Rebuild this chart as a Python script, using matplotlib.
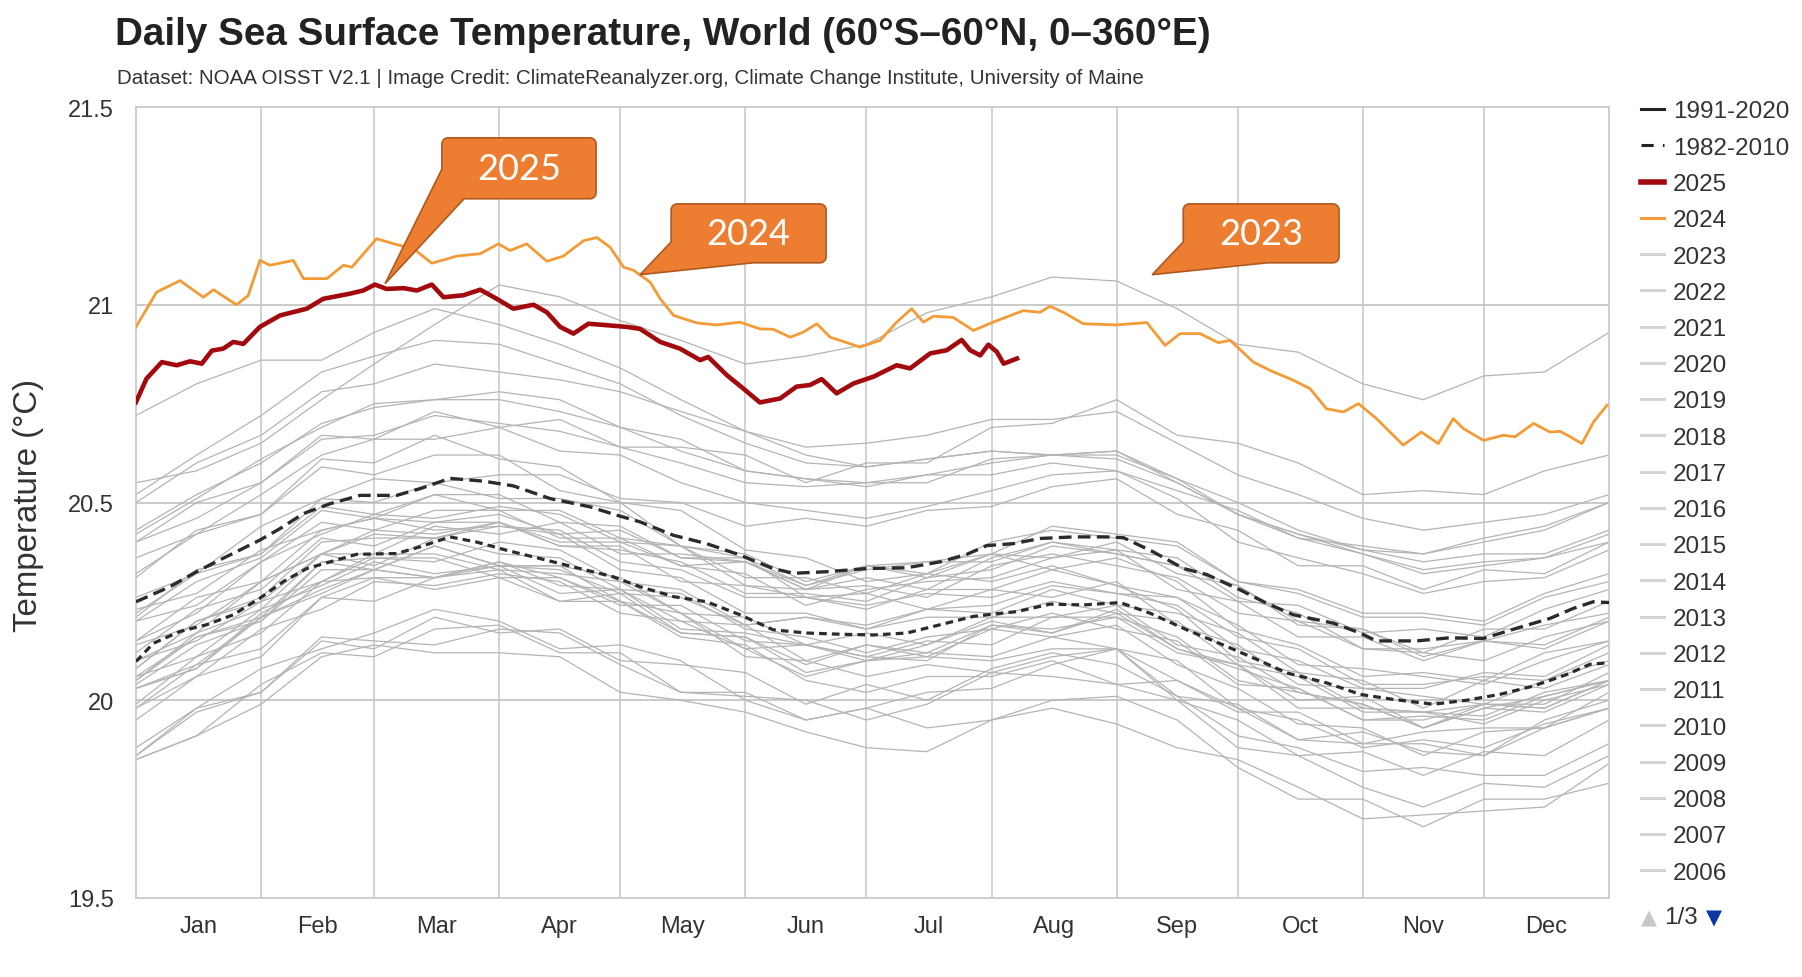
import matplotlib
matplotlib.use("Agg")
import matplotlib.pyplot as plt
from matplotlib.patches import Polygon
from matplotlib.lines import Line2D
from matplotlib.transforms import IdentityTransform
import numpy as np

# ---- data (day of year, deg C) ----
MONTHS = ["Jan", "Feb", "Mar", "Apr", "May", "Jun", "Jul", "Aug", "Sep", "Oct", "Nov", "Dec"]
MONTH_START = [0, 31, 59, 90, 120, 151, 181, 212, 243, 273, 304, 334]
MONTH_MID = [15.5, 45, 74.5, 105, 135.5, 166, 196.5, 227.5, 258, 288.5, 319, 349.5]
Y_TICKS = [19.5, 20, 20.5, 21, 21.5]
Y_TICK_LABELS = ["19.5", "20", "20.5", "21", "21.5"]

days_2025 = [0, 2.6, 6.4, 10.1, 13.4, 16.3, 18.8, 21.6, 24.1, 26.6, 30.7, 35.7, 42.3, 46.4, 53.0,
             56.3, 59.2, 62.1, 66.3, 69.6, 73.3, 76.2, 81.1, 85.3, 89.4, 93.5, 98.5, 101.8, 105.1,
             108.4, 112.1, 115.8, 121.6, 124.9, 129.9, 134.8, 139.8, 141.8, 146.4, 150.5, 154.6,
             159.6, 163.7, 167.0, 169.9, 173.6, 177.8, 182.7, 188.5, 191.8, 196.8, 200.9, 204.6,
             206.7, 209.2, 211.2, 213.3, 215.0, 218.3]
sst_2025 = [20.754, 20.813, 20.855, 20.847, 20.857, 20.851, 20.884, 20.889, 20.906, 20.901, 20.944,
            20.973, 20.990, 21.015, 21.028, 21.036, 21.051, 21.040, 21.042, 21.036, 21.051, 21.019,
            21.024, 21.038, 21.015, 20.990, 21.000, 20.981, 20.944, 20.927, 20.952, 20.949, 20.944,
            20.939, 20.906, 20.889, 20.860, 20.868, 20.822, 20.788, 20.753, 20.763, 20.793, 20.797,
            20.812, 20.776, 20.801, 20.818, 20.847, 20.839, 20.877, 20.885, 20.911, 20.885, 20.872,
            20.899, 20.881, 20.851, 20.864]

days_2024 = [0, 5.1, 10.9, 16.7, 19.2, 24.9, 27.8, 30.7, 33.2, 39.0, 41.5, 47.3, 51.4, 53.5, 59.6,
             64.6, 68.7, 73.3, 79.5, 85.3, 89.8, 92.7, 96.8, 101.8, 105.9, 110.9, 114.2, 117.5,
             120.8, 123.3, 127.4, 129.9, 133.2, 139.0, 143.9, 149.7, 154.6, 157.9, 162.1, 165.4,
             168.7, 172.0, 179.4, 184.4, 188.5, 192.2, 195.1, 197.6, 202.5, 207.5, 212.4, 219.8,
             224.0, 226.5, 229.8, 234.7, 243.0, 250.5, 255.0, 258.7, 263.7, 268.2, 271.1, 276.9,
             281.0, 286.8, 290.9, 295.0, 299.2, 302.9, 307.4, 314.0, 318.5, 322.7, 326.4, 328.9,
             333.9, 338.8, 341.7, 346.3, 350.4, 352.9, 355.4, 358.3, 361.2, 364.5]
sst_2024 = [20.944, 21.032, 21.061, 21.019, 21.038, 21.000, 21.023, 21.112, 21.100, 21.112, 21.066,
            21.066, 21.100, 21.095, 21.167, 21.152, 21.142, 21.105, 21.123, 21.129, 21.154, 21.137,
            21.154, 21.110, 21.123, 21.162, 21.170, 21.145, 21.095, 21.087, 21.057, 21.015, 20.973,
            20.954, 20.949, 20.956, 20.939, 20.938, 20.918, 20.931, 20.952, 20.918, 20.893, 20.910,
            20.956, 20.990, 20.956, 20.971, 20.968, 20.935, 20.956, 20.985, 20.981, 20.996, 20.981,
            20.952, 20.949, 20.955, 20.897, 20.927, 20.927, 20.904, 20.910, 20.855, 20.834, 20.809,
            20.788, 20.737, 20.729, 20.750, 20.712, 20.645, 20.678, 20.649, 20.712, 20.687, 20.657,
            20.670, 20.666, 20.700, 20.678, 20.680, 20.666, 20.649, 20.704, 20.746]

days_9120 = [0, 8.4, 15, 21.6, 30.7, 35.7, 41.5, 48.1, 55.5, 64.6, 70.4, 77.8, 86.1, 93.5, 102.6,
             112.5, 119.1, 124.9, 133.2, 141.4, 149.7, 157.9, 162.9, 171.2, 181.1, 191, 199.3,
             205.9, 210.8, 217.4, 224, 232.3, 240.5, 244.7, 252.1, 259.6, 265.3, 273.6, 280.2,
             286.8, 296.7, 303.3, 307.4, 317.3, 325.6, 333.8, 342.1, 350.4, 356.1, 361.1, 365]
clim_9120 = [20.249, 20.287, 20.325, 20.359, 20.405, 20.434, 20.472, 20.497, 20.518, 20.518, 20.535,
             20.561, 20.554, 20.542, 20.510, 20.489, 20.468, 20.451, 20.417, 20.396, 20.367, 20.333,
             20.321, 20.325, 20.333, 20.335, 20.350, 20.369, 20.391, 20.396, 20.409, 20.413, 20.413,
             20.411, 20.375, 20.333, 20.318, 20.279, 20.245, 20.216, 20.195, 20.170, 20.150, 20.150,
             20.158, 20.156, 20.182, 20.207, 20.232, 20.249, 20.247]

days_8210 = [0, 4.3, 10.9, 17.5, 24.1, 30.7, 36.5, 42.3, 48.1, 54.7, 64.6, 70.4, 77.8, 84.4, 91.9,
             101.8, 110, 118.3, 124.9, 133.2, 141.4, 149.7, 157.9, 166.2, 174.4, 182.7, 191, 199.3,
             207.5, 212.4, 218.2, 226.5, 234.7, 243.9, 251.3, 260.4, 270.3, 276.9, 285.2, 295,
             303.3, 311.6, 321.5, 329.7, 338, 346.3, 354.5, 360.3, 365]
clim_8210 = [20.098, 20.144, 20.174, 20.191, 20.216, 20.258, 20.300, 20.333, 20.350, 20.369, 20.371,
             20.388, 20.413, 20.400, 20.379, 20.354, 20.333, 20.312, 20.287, 20.262, 20.249, 20.216,
             20.178, 20.170, 20.167, 20.165, 20.170, 20.191, 20.212, 20.218, 20.224, 20.243, 20.241,
             20.247, 20.220, 20.178, 20.136, 20.107, 20.069, 20.044, 20.015, 20.002, 19.990, 20.000,
             20.015, 20.036, 20.065, 20.091, 20.095]

# past years, sampled twice a month
gray_days = [0, 15, 31, 46, 59, 74, 90, 105, 120, 135, 151, 166, 181, 196, 212, 227, 243, 258, 273,
             288, 304, 319, 334, 349, 365]
y1982 = [19.88, 19.98, 20.02, 20.16, 20.15, 20.14, 20.18, 20.17, 20.09, 20.02, 20.01, 20.00, 19.95, 19.99, 20.07, 20.06, 20.04, 20.05, 19.98, 19.90, 19.92, 19.87, 19.86, 19.95, 20.00]
y1983 = [20.03, 20.08, 20.22, 20.30, 20.37, 20.37, 20.33, 20.32, 20.30, 20.22, 20.13, 20.06, 20.10, 20.11, 20.10, 20.13, 20.13, 20.01, 19.91, 19.88, 19.82, 19.83, 19.81, 19.81, 19.89]
y1984 = [19.86, 19.98, 20.08, 20.13, 20.17, 20.23, 20.20, 20.13, 20.14, 20.10, 20.00, 19.95, 19.98, 19.93, 19.95, 20.00, 20.01, 19.95, 19.83, 19.75, 19.75, 19.68, 19.75, 19.75, 19.79]
y1985 = [19.85, 19.91, 19.99, 20.11, 20.14, 20.12, 20.12, 20.11, 20.02, 20.00, 19.97, 19.92, 19.88, 19.87, 19.95, 19.98, 19.94, 19.88, 19.85, 19.78, 19.70, 19.71, 19.72, 19.73, 19.84]
y1986 = [19.85, 19.91, 20.04, 20.12, 20.11, 20.18, 20.19, 20.12, 20.12, 20.02, 20.02, 19.95, 19.98, 20.02, 20.03, 20.09, 20.13, 20.05, 19.97, 19.97, 19.89, 19.92, 19.93, 19.93, 20.02]
y1987 = [20.05, 20.16, 20.21, 20.35, 20.36, 20.35, 20.40, 20.38, 20.30, 20.28, 20.19, 20.21, 20.18, 20.23, 20.22, 20.28, 20.24, 20.22, 20.17, 20.07, 20.05, 19.98, 20.05, 20.03, 20.09]
y1988 = [20.10, 20.15, 20.25, 20.30, 20.36, 20.36, 20.31, 20.31, 20.25, 20.16, 20.14, 20.05, 20.02, 20.06, 20.06, 20.10, 20.04, 20.00, 19.88, 19.86, 19.78, 19.73, 19.79, 19.78, 19.86]
y1989 = [19.86, 19.97, 20.02, 20.15, 20.13, 20.21, 20.17, 20.18, 20.10, 20.09, 20.07, 19.99, 20.04, 20.00, 20.08, 20.12, 20.09, 20.01, 19.99, 19.90, 19.89, 19.89, 19.86, 19.93, 19.98]
y1990 = [19.99, 20.11, 20.17, 20.30, 20.31, 20.31, 20.35, 20.31, 20.24, 20.24, 20.15, 20.14, 20.10, 20.14, 20.20, 20.17, 20.22, 20.13, 20.09, 19.98, 19.98, 19.97, 19.94, 20.00, 20.04]
y1991 = [20.06, 20.11, 20.23, 20.29, 20.35, 20.32, 20.34, 20.27, 20.28, 20.20, 20.19, 20.10, 20.14, 20.11, 20.18, 20.22, 20.18, 20.15, 20.04, 20.03, 19.95, 19.95, 19.99, 19.98, 20.05]
y1992 = [20.06, 20.16, 20.20, 20.33, 20.33, 20.39, 20.34, 20.34, 20.25, 20.22, 20.11, 20.10, 20.06, 20.09, 20.07, 20.11, 20.13, 20.00, 19.95, 19.86, 19.87, 19.81, 19.87, 19.86, 19.95]
y1993 = [19.95, 20.06, 20.11, 20.26, 20.25, 20.31, 20.33, 20.25, 20.25, 20.17, 20.16, 20.07, 20.10, 20.12, 20.11, 20.16, 20.13, 20.10, 19.98, 19.95, 19.88, 19.90, 19.88, 19.94, 19.98]
y1994 = [19.98, 20.06, 20.18, 20.23, 20.30, 20.29, 20.32, 20.30, 20.22, 20.20, 20.13, 20.14, 20.11, 20.15, 20.14, 20.21, 20.21, 20.12, 20.09, 20.00, 20.01, 19.93, 19.99, 19.99, 20.07]
y1995 = [20.08, 20.20, 20.25, 20.37, 20.34, 20.41, 20.37, 20.36, 20.28, 20.27, 20.18, 20.16, 20.12, 20.16, 20.18, 20.16, 20.19, 20.09, 20.03, 19.94, 19.93, 19.86, 19.92, 19.93, 19.98]
y1996 = [19.98, 20.09, 20.13, 20.26, 20.31, 20.28, 20.31, 20.25, 20.27, 20.17, 20.16, 20.09, 20.14, 20.12, 20.19, 20.17, 20.23, 20.13, 20.08, 20.03, 19.95, 19.96, 19.95, 20.01, 20.05]
y1997 = [20.05, 20.17, 20.23, 20.37, 20.37, 20.44, 20.42, 20.45, 20.37, 20.37, 20.35, 20.28, 20.34, 20.35, 20.37, 20.44, 20.42, 20.40, 20.30, 20.27, 20.21, 20.21, 20.19, 20.26, 20.30]
y1998 = [20.31, 20.43, 20.47, 20.61, 20.60, 20.67, 20.61, 20.59, 20.50, 20.48, 20.38, 20.36, 20.30, 20.32, 20.30, 20.34, 20.29, 20.23, 20.10, 20.07, 19.98, 19.97, 19.96, 20.02, 20.05]
y1999 = [20.03, 20.09, 20.21, 20.28, 20.33, 20.31, 20.35, 20.29, 20.28, 20.18, 20.17, 20.14, 20.11, 20.10, 20.19, 20.18, 20.21, 20.16, 20.05, 20.02, 19.99, 19.93, 19.98, 19.97, 20.04]
y2000 = [20.04, 20.14, 20.20, 20.35, 20.33, 20.39, 20.34, 20.34, 20.31, 20.22, 20.21, 20.14, 20.17, 20.14, 20.21, 20.21, 20.24, 20.14, 20.11, 20.02, 19.99, 19.93, 19.98, 20.01, 20.05]
y2001 = [20.08, 20.20, 20.26, 20.40, 20.41, 20.41, 20.45, 20.39, 20.39, 20.30, 20.29, 20.26, 20.23, 20.28, 20.28, 20.33, 20.29, 20.26, 20.19, 20.09, 20.08, 20.06, 20.04, 20.10, 20.15]
y2002 = [20.15, 20.22, 20.35, 20.42, 20.47, 20.46, 20.49, 20.47, 20.40, 20.39, 20.31, 20.31, 20.27, 20.32, 20.37, 20.36, 20.40, 20.32, 20.29, 20.20, 20.18, 20.11, 20.15, 20.19, 20.22]
y2003 = [20.22, 20.32, 20.37, 20.49, 20.47, 20.52, 20.48, 20.48, 20.41, 20.39, 20.29, 20.28, 20.29, 20.26, 20.34, 20.37, 20.34, 20.31, 20.22, 20.20, 20.13, 20.12, 20.10, 20.16, 20.20]
y2004 = [20.20, 20.24, 20.35, 20.45, 20.43, 20.48, 20.48, 20.41, 20.41, 20.34, 20.32, 20.24, 20.28, 20.30, 20.31, 20.36, 20.38, 20.28, 20.25, 20.16, 20.16, 20.10, 20.15, 20.14, 20.21]
y2005 = [20.21, 20.33, 20.37, 20.51, 20.50, 20.55, 20.51, 20.51, 20.48, 20.39, 20.37, 20.30, 20.34, 20.31, 20.37, 20.33, 20.36, 20.30, 20.18, 20.14, 20.06, 20.07, 20.05, 20.12, 20.15]
y2006 = [20.14, 20.19, 20.30, 20.37, 20.43, 20.42, 20.45, 20.39, 20.38, 20.35, 20.27, 20.27, 20.25, 20.31, 20.33, 20.39, 20.37, 20.34, 20.29, 20.19, 20.18, 20.12, 20.18, 20.18, 20.25]
y2007 = [20.23, 20.27, 20.38, 20.43, 20.46, 20.43, 20.44, 20.42, 20.33, 20.31, 20.22, 20.22, 20.18, 20.21, 20.21, 20.25, 20.22, 20.20, 20.09, 20.06, 19.97, 19.97, 19.99, 19.98, 20.05]
y2008 = [20.03, 20.08, 20.21, 20.27, 20.33, 20.31, 20.34, 20.33, 20.27, 20.26, 20.19, 20.21, 20.19, 20.23, 20.24, 20.29, 20.27, 20.26, 20.16, 20.13, 20.04, 20.04, 20.06, 20.05, 20.12]
y2009 = [20.12, 20.23, 20.28, 20.41, 20.39, 20.45, 20.45, 20.40, 20.40, 20.34, 20.35, 20.29, 20.34, 20.32, 20.40, 20.43, 20.41, 20.39, 20.30, 20.28, 20.22, 20.22, 20.20, 20.27, 20.32]
y2010 = [20.32, 20.42, 20.47, 20.59, 20.57, 20.62, 20.62, 20.53, 20.50, 20.39, 20.36, 20.26, 20.27, 20.23, 20.28, 20.26, 20.30, 20.19, 20.14, 20.04, 20.03, 20.01, 19.99, 20.05, 20.10]
y2011 = [20.10, 20.17, 20.30, 20.37, 20.42, 20.41, 20.44, 20.43, 20.35, 20.33, 20.26, 20.26, 20.24, 20.27, 20.26, 20.30, 20.27, 20.24, 20.13, 20.10, 20.03, 20.03, 20.07, 20.06, 20.14]
y2012 = [20.15, 20.26, 20.30, 20.43, 20.46, 20.45, 20.47, 20.42, 20.43, 20.36, 20.36, 20.29, 20.33, 20.35, 20.35, 20.40, 20.38, 20.36, 20.26, 20.22, 20.13, 20.13, 20.15, 20.13, 20.20]
y2013 = [20.20, 20.30, 20.36, 20.48, 20.46, 20.52, 20.52, 20.45, 20.44, 20.36, 20.35, 20.28, 20.31, 20.28, 20.36, 20.40, 20.37, 20.34, 20.25, 20.24, 20.17, 20.18, 20.16, 20.23, 20.28]
y2014 = [20.26, 20.32, 20.44, 20.51, 20.56, 20.55, 20.57, 20.57, 20.51, 20.50, 20.44, 20.46, 20.44, 20.48, 20.49, 20.54, 20.56, 20.47, 20.43, 20.34, 20.34, 20.28, 20.33, 20.32, 20.40]
y2015 = [20.40, 20.50, 20.55, 20.67, 20.66, 20.73, 20.69, 20.71, 20.64, 20.64, 20.62, 20.55, 20.60, 20.60, 20.69, 20.70, 20.76, 20.67, 20.65, 20.60, 20.52, 20.53, 20.52, 20.58, 20.62]
y2016 = [20.72, 20.80, 20.86, 20.86, 20.93, 20.99, 20.95, 20.90, 20.84, 20.76, 20.68, 20.62, 20.59, 20.61, 20.63, 20.62, 20.63, 20.55, 20.47, 20.42, 20.37, 20.33, 20.35, 20.36, 20.42]
y2017 = [20.42, 20.51, 20.61, 20.69, 20.75, 20.76, 20.78, 20.76, 20.69, 20.66, 20.58, 20.56, 20.55, 20.57, 20.57, 20.60, 20.58, 20.51, 20.40, 20.36, 20.32, 20.27, 20.30, 20.31, 20.38]
y2018 = [20.36, 20.42, 20.52, 20.62, 20.66, 20.66, 20.69, 20.63, 20.62, 20.55, 20.50, 20.48, 20.46, 20.49, 20.53, 20.57, 20.58, 20.53, 20.48, 20.41, 20.39, 20.37, 20.40, 20.43, 20.50]
y2019 = [20.50, 20.60, 20.67, 20.78, 20.80, 20.85, 20.83, 20.81, 20.78, 20.73, 20.68, 20.64, 20.65, 20.67, 20.71, 20.71, 20.73, 20.65, 20.57, 20.52, 20.46, 20.43, 20.45, 20.47, 20.52]
y2020 = [20.52, 20.62, 20.72, 20.83, 20.87, 20.91, 20.90, 20.85, 20.80, 20.72, 20.65, 20.60, 20.59, 20.61, 20.63, 20.62, 20.63, 20.56, 20.47, 20.41, 20.37, 20.32, 20.34, 20.36, 20.40]
y2021 = [20.40, 20.46, 20.55, 20.66, 20.67, 20.72, 20.70, 20.68, 20.64, 20.60, 20.55, 20.54, 20.55, 20.55, 20.61, 20.62, 20.62, 20.56, 20.50, 20.43, 20.38, 20.35, 20.37, 20.37, 20.43]
y2022 = [20.43, 20.52, 20.60, 20.70, 20.74, 20.76, 20.76, 20.73, 20.69, 20.63, 20.58, 20.56, 20.54, 20.57, 20.60, 20.62, 20.61, 20.55, 20.47, 20.42, 20.38, 20.37, 20.41, 20.44, 20.50]
y2023 = [20.55, 20.58, 20.65, 20.76, 20.85, 20.95, 21.05, 21.02, 20.96, 20.91, 20.85, 20.87, 20.90, 20.98, 21.02, 21.07, 21.06, 20.99, 20.90, 20.88, 20.80, 20.76, 20.82, 20.83, 20.93]

gray_years = [y1982, y1983, y1984, y1985, y1986, y1987, y1988, y1989, y1990, y1991, y1992, y1993,
              y1994, y1995, y1996, y1997, y1998, y1999, y2000, y2001, y2002, y2003, y2004, y2005,
              y2006, y2007, y2008, y2009, y2010, y2011, y2012, y2013, y2014, y2015, y2016, y2017,
              y2018, y2019, y2020, y2021, y2022, y2023]

legend_labels = ["1991-2020", "1982-2010", "2025", "2024"] + [str(y) for y in range(2023, 2005, -1)]

# callouts: label, tip (day, temp), box (day0, day1, temp_bottom, temp_top),
# wedge start on the box's left edge (temp) and on its bottom edge (day)
callouts = [
    ("2025", (61.7, 21.053), (75.8, 114.0, 21.268, 21.422), 21.343, 81.3),
    ("2024", (124.9, 21.076), (132.6, 171.0, 21.106, 21.255), 21.159, 152.9),
    ("2023", (251.8, 21.076), (259.5, 298.1, 21.106, 21.255), 21.159, 280.3),
]

W, H = 1802, 978
FONT = ["Liberation Sans", "DejaVu Sans"]
plt.rcParams['font.family'] = FONT

fig = plt.figure(figsize=(W / 100, H / 100), dpi=100)
fig.patch.set_facecolor("white")
ax = fig.add_axes([136 / W, 1 - 899 / H, (1609 - 136) / W, (899 - 108) / H])
ax.set_xlim(0, 365)
ax.set_ylim(19.5, 21.5)
ax.set_autoscale_on(False)

for s in ax.spines.values():
    s.set_color("#c6c6c6")
    s.set_linewidth(1.2)
for d in MONTH_START[1:]:
    ax.axvline(d, color="#c6c6c6", lw=1.1, zorder=1)
for t in Y_TICKS[1:-1]:
    ax.axhline(t, color="#c6c6c6", lw=1.3, zorder=1)

ax.set_yticks(Y_TICKS)
ax.set_yticklabels(Y_TICK_LABELS)
ax.set_xticks(MONTH_MID)
ax.set_xticklabels(MONTHS)
ax.tick_params(axis="both", length=0, labelsize=17, labelcolor="#333333")
ax.tick_params(axis="y", pad=16)
ax.tick_params(axis="x", pad=12)

# gray lines for past years
for row in gray_years:
    ax.plot(gray_days, row, color="#b4b4b4", lw=0.9, zorder=2)

ax.plot(days_8210, clim_8210, color="#2b2b2b", lw=2.3, dashes=(2.4, 1.6), zorder=4)
ax.plot(days_9120, clim_9120, color="#2b2b2b", lw=2.4, dashes=(3.8, 1.9), zorder=4)
ax.plot(days_2024, sst_2024, color="#f39b36", lw=2.0, zorder=5)
ax.plot(days_2025, sst_2025, color="#a30a0e", lw=3.3, zorder=6)

# callout shapes, built in pixel space
r = 6
for label, tip, box, ya, xb in callouts:
    tx, ty = ax.transData.transform(tip)
    x0, yb = ax.transData.transform((box[0], box[2]))
    x1, yt = ax.transData.transform((box[1], box[3]))
    _, ay = ax.transData.transform((box[0], ya))
    bx, _ = ax.transData.transform((xb, box[2]))
    pts = [(x0, ay)]
    for cx, cy, a0, a1 in [(x0 + r, yt - r, 180, 90), (x1 - r, yt - r, 90, 0), (x1 - r, yb + r, 0, -90)]:
        for a in np.linspace(np.radians(a0), np.radians(a1), 7):
            pts.append((cx + r * np.cos(a), cy + r * np.sin(a)))
    pts += [(bx, yb), (tx, ty)]
    poly = Polygon(pts, closed=True, transform=IdentityTransform(), facecolor="#ed7d31",
                   edgecolor="#ae5a21", lw=1.2, zorder=10)
    ax.add_patch(poly)
    ax.text((box[0] + box[1]) / 2, (box[2] + box[3]) / 2, label, ha="center", va="center",
            color="white", fontsize=26, family=["Lato", "DejaVu Sans"], zorder=11)

# titles
renderer = fig.canvas.get_renderer()


def fit(t, target):
    bb = t.get_window_extent(renderer=renderer)
    size = max(bb.width, bb.height)
    t.set_fontsize(t.get_fontsize() * target / size)


title = fig.text(115 / W, 1 - 45 / H, "Daily Sea Surface Temperature, World (60°S–60°N, 0–360°E)",
                 fontsize=24, fontweight="bold", color="#222222", ha="left", va="baseline")
fit(title, 1097)
sub = fig.text(117 / W, 1 - 84 / H, "Dataset: NOAA OISST V2.1 | Image Credit: ClimateReanalyzer.org, "
               "Climate Change Institute, University of Maine",
               fontsize=13, color="#333333", ha="left", va="baseline")
fit(sub, 1026)
ylab = fig.text(29 / W, 1 - 505 / H, "Temperature (°C)", rotation=90, ha="center", va="center",
                fontsize=22, color="#333333")
fit(ylab, 253)

# legend on the right
styles = [
    dict(color="#222222", lw=2.2),
    dict(color="#222222", lw=2.2, linestyle=(0, (4, 3, 1, 3))),
    dict(color="#a30a0e", lw=4.0),
    dict(color="#f39b36", lw=2.2),
]
for i, lab in enumerate(legend_labels):
    y = 1 - (110 + i * 36.25) / H
    st = styles[i] if i < len(styles) else dict(color="#d4d4d4", lw=2.2)
    fig.add_artist(Line2D([1641 / W, 1664 / W], [y, y], transform=fig.transFigure, **st))
    fig.text(1673 / W, y, lab, fontsize=17.5, color="#333333", ha="left", va="center_baseline")

yb = 1 - 916 / H
fig.text(1641 / W, yb, "▲", fontsize=15, color="#c8c8c8", ha="left", va="center_baseline",
         family="DejaVu Sans")
fig.text(1664 / W, yb, "1/3", fontsize=17.5, color="#333333", ha="left", va="center_baseline")
fig.text(1706 / W, yb, "▼", fontsize=15, color="#0b36a3", ha="left", va="center_baseline",
         family="DejaVu Sans")

fig.savefig("out.png", dpi=100, facecolor="white")
